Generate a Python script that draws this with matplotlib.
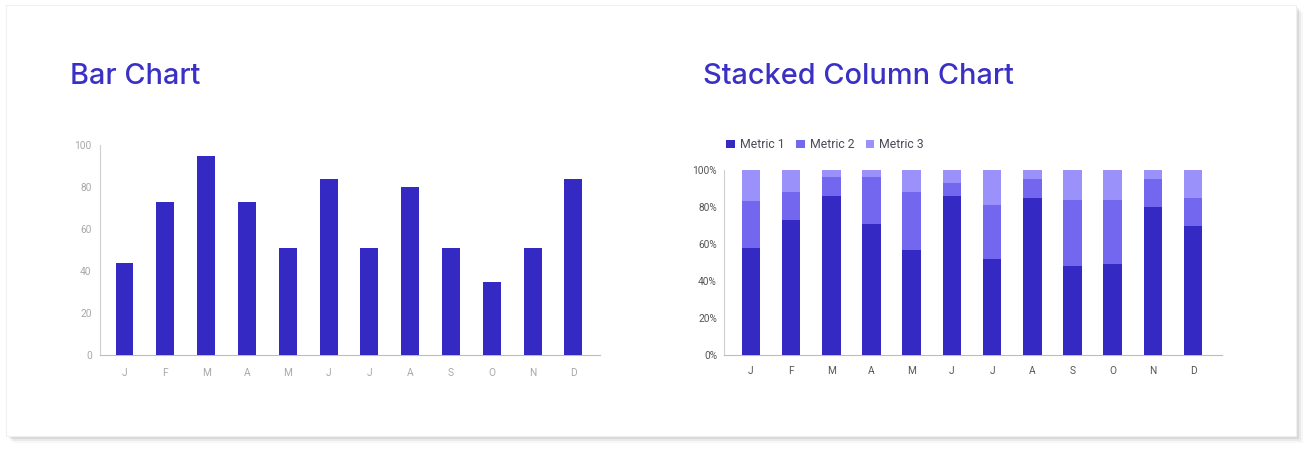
import matplotlib.pyplot as plt
from matplotlib.patches import Rectangle

# data
months = ["J", "F", "M", "A", "M", "J", "J", "A", "S", "O", "N", "D"]
bar_values = [44, 73, 95, 73, 51, 84, 51, 80, 51, 35, 51, 84]
bar_ticks = [0, 20, 40, 60, 80, 100]

metric1 = [58, 73, 86, 71, 57, 86, 52, 85, 48, 49, 80, 70]
metric2 = [25, 15, 10, 25, 31, 7, 29, 10, 36, 35, 15, 15]
metric3 = [17, 12, 4, 4, 12, 7, 19, 5, 16, 16, 5, 15]
metric_names = ["Metric 1", "Metric 2", "Metric 3"]
pct_ticks = [0, 20, 40, 60, 80, 100]

# styles
C_DARK = "#3429c2"
C_MID = "#7367f0"
C_LIGHT = "#9a91fb"
C_TITLE = "#3a30c6"

plt.rcParams['font.family'] = ['Roboto', 'DejaVu Sans']

W, H = 1311, 450
fig = plt.figure(figsize=(W / 100, H / 100), dpi=100)
fig.patch.set_facecolor("white")

# card + shadow
for off, alpha in [(7, 0.03), (5, 0.05), (3, 0.07), (1, 0.08)]:
    fig.patches.append(Rectangle(((6 + off) / W, 1 - (436 + off) / H), 1290 / W, 431 / H,
                                 transform=fig.transFigure, facecolor="black",
                                 alpha=alpha, edgecolor="none", zorder=0))
fig.patches.append(Rectangle((6 / W, 1 - 436 / H), 1290 / W, 431 / H,
                             transform=fig.transFigure, facecolor="white",
                             edgecolor="#f0f0f0", linewidth=0.8, zorder=1))

# titles
fig.text(70 / W, 1 - 76 / H, "Bar Chart", family=['Inter', 'DejaVu Sans'],
         fontsize=20.8, color=C_TITLE, va="center", ha="left", weight="medium", zorder=3)
fig.text(703 / W, 1 - 76 / H, "Stacked Column Chart", family=['Inter', 'DejaVu Sans'],
         fontsize=20.8, color=C_TITLE, va="center", ha="left", weight="medium", zorder=3)

x = list(range(len(months)))

# bar chart
ax1 = fig.add_axes([100 / W, 1 - 355 / H, 500 / W, 210 / H])
ax1.set_zorder(2)
ax1.patch.set_alpha(0)
ax1.bar(x, bar_values, width=0.44, color=C_DARK, zorder=3)
ax1.set_xlim(-0.6, 11.65)
ax1.set_ylim(0, 100)
ax1.set_yticks(bar_ticks)
ax1.set_xticks(x)
ax1.set_xticklabels(months)
for s in ["top", "right"]:
    ax1.spines[s].set_visible(False)
ax1.spines["left"].set_color("#cfcfcf")
ax1.spines["bottom"].set_color("#bdbdbd")
ax1.tick_params(length=0, labelsize=7.3, colors="#a8a8a8")
ax1.tick_params(axis="y", pad=6)
ax1.tick_params(axis="x", pad=9)

# stacked column chart
ax2 = fig.add_axes([724 / W, 1 - 355 / H, 498 / W, 185 / H])
ax2.set_zorder(2)
ax2.patch.set_alpha(0)
bottom2 = [a + b for a, b in zip(metric1, metric2)]
ax2.bar(x, metric1, width=0.46, color=C_DARK, label=metric_names[0], zorder=3)
ax2.bar(x, metric2, width=0.46, bottom=metric1, color=C_MID, label=metric_names[1], zorder=3)
ax2.bar(x, metric3, width=0.46, bottom=bottom2, color=C_LIGHT, label=metric_names[2], zorder=3)
ax2.set_xlim(-0.67, 11.72)
ax2.set_ylim(0, 100)
ax2.set_yticks(pct_ticks)
ax2.set_yticklabels([f"{t}%" for t in pct_ticks])
ax2.set_xticks(x)
ax2.set_xticklabels(months)
for s in ["top", "right"]:
    ax2.spines[s].set_visible(False)
ax2.spines["left"].set_color("#cfcfcf")
ax2.spines["bottom"].set_color("#bdbdbd")
ax2.tick_params(length=0, labelsize=7.3, colors="#555555")
ax2.tick_params(axis="y", pad=5)
ax2.tick_params(axis="x", pad=8)

leg = ax2.legend(loc="lower left", bbox_to_anchor=(-0.005, 1.075), ncol=3, frameon=False,
                 fontsize=8.8, handlelength=0.7, handleheight=0.7, handletextpad=0.4,
                 columnspacing=0.95, borderaxespad=0)
for t in leg.get_texts():
    t.set_color("#4a4a5a")

fig.savefig("out.png", dpi=100)
